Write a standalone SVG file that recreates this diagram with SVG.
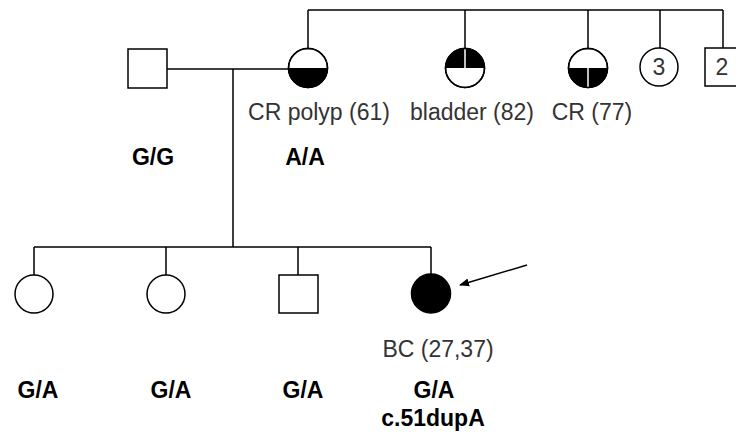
<svg xmlns="http://www.w3.org/2000/svg" width="736" height="440" viewBox="0 0 736 440">
<defs>
<style>
.ln{stroke:#000;stroke-width:1.5;fill:none}
.sym{stroke:#000;stroke-width:1.5;fill:#fff}
.blk{fill:#000;stroke:none}
.wl{stroke:#fff;stroke-width:1.5}
.lbl{font-family:"Liberation Sans",Arial,sans-serif;font-size:23px;fill:#333;text-anchor:middle}
.gt{font-family:"Liberation Sans",Arial,sans-serif;font-size:23px;font-weight:bold;fill:#000;text-anchor:middle}
</style>
<marker id="ah" viewBox="0 0 10 10" refX="9" refY="5" markerWidth="10" markerHeight="10" markerUnits="userSpaceOnUse" orient="auto">
<path d="M0,1 L10,5 L0,9 Z" fill="#000"/>
</marker>
</defs>
<rect width="736" height="440" fill="#fff"/>
<g id="connectors">
<path class="ln" d="M308,10 H723 M308,10 V48 M465,10 V48 M588,10 V48 M660,10 V48 M723,10 V48"/>
<path class="ln" d="M167,69 H289 M233,69 V247 M34,247 H431 M34,247 V275 M166,247 V275 M298,247 V275 M431,247 V274"/>
<line class="ln" x1="527" y1="265" x2="460" y2="285" marker-end="url(#ah)"/>
</g>
<g id="father">
<rect class="sym" x="128" y="49" width="39" height="39"/>
<text class="gt" x="153" y="165">G/G</text>
</g>
<g id="mother">
<circle class="sym" cx="308" cy="68" r="19.5"/>
<path class="blk" d="M288.5,68 A19.5,19.5 0 0 0 327.5,68 Z"/>
<circle class="ln" cx="308" cy="68" r="19.5"/>
<text class="lbl" x="319" y="120">CR polyp (61)</text>
<text class="gt" x="305" y="165">A/A</text>
</g>
<g id="aunt-bladder">
<circle class="sym" cx="465" cy="68" r="19.5"/>
<path class="blk" d="M445.5,68 A19.5,19.5 0 0 1 484.5,68 Z"/>
<line class="wl" x1="465" y1="49" x2="465" y2="68"/>
<circle class="ln" cx="465" cy="68" r="19.5"/>
<text class="lbl" x="472" y="120">bladder (82)</text>
</g>
<g id="aunt-cr">
<circle class="sym" cx="588" cy="68" r="19.5"/>
<path class="blk" d="M568.5,68 A19.5,19.5 0 0 0 607.5,68 Z"/>
<line class="wl" x1="588" y1="68" x2="588" y2="87"/>
<circle class="ln" cx="588" cy="68" r="19.5"/>
<text class="lbl" x="592" y="120">CR (77)</text>
</g>
<g id="sisters-3">
<circle class="sym" cx="659" cy="67" r="19"/>
<text class="lbl" x="659" y="75">3</text>
</g>
<g id="brothers-2">
<rect class="sym" x="705" y="48" width="38" height="38"/>
<text class="lbl" x="722" y="75">2</text>
</g>
<g id="child1">
<circle class="sym" cx="34" cy="294" r="19"/>
<text class="gt" x="38" y="398">G/A</text>
</g>
<g id="child2">
<circle class="sym" cx="166" cy="294" r="19"/>
<text class="gt" x="171" y="398">G/A</text>
</g>
<g id="child3">
<rect class="sym" x="279" y="275" width="39" height="38"/>
<text class="gt" x="303" y="398">G/A</text>
</g>
<g id="proband">
<circle cx="431" cy="293.5" r="19.5" fill="#000" stroke="#000" stroke-width="1.5"/>
<text class="lbl" x="438" y="357">BC (27,37)</text>
<text class="gt" x="434" y="398">G/A</text>
<text class="gt" x="433" y="426">c.51dupA</text>
</g>
</svg>
